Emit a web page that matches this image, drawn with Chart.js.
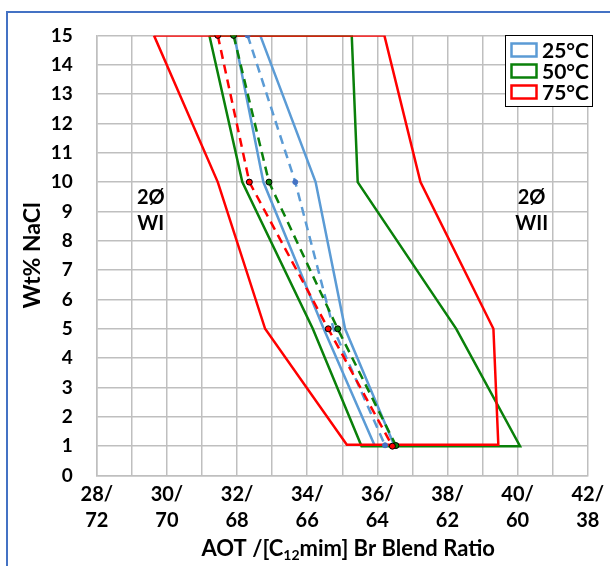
<!DOCTYPE html>
<html>
<head>
<meta charset="utf-8">
<script src="https://cdn.jsdelivr.net/npm/chart.js@4/dist/chart.umd.min.js"></script>
<style>
html, body { margin: 0; padding: 0; background: #fff; }
#wrap { width: 610px; height: 566px; position: relative; }
</style>
</head>
<body>
<div id="wrap"><canvas id="phaseChart" width="610" height="566"></canvas></div>
<script>
// phase boundaries (closed outlines), x = AOT share, y = wt% NaCl
const edge25X = [31.92, 32.75, 34.47, 35.92, 36.48, 35.08, 34.24, 32.66, 31.92];
const edge25Y = [15, 10, 5, 1.03, 1.03, 5, 10, 15, 15];
const edge50X = [31.21, 32.15, 34.16, 35.55, 40.07, 38.25, 35.44, 35.27, 31.21];
const edge50Y = [15, 10, 5, 1.0, 1.0, 5, 10, 15, 15];
const edge75X = [29.63, 31.45, 32.8, 35.13, 39.45, 39.31, 37.23, 36.2, 29.63];
const edge75Y = [15, 10, 5, 1.05, 1.05, 5, 10, 15, 15];

// optimum lines (dashed with markers)
const opt25X = [32.3, 33.66, 34.75, 36.22];
const opt25Y = [15, 10, 5, 1.03];
const opt50X = [31.9, 32.91, 34.87, 36.53];
const opt50Y = [15, 10, 5, 1.02];
const opt75X = [31.45, 32.35, 34.6, 36.43];
const opt75Y = [15, 10, 5, 1.0];

const seriesLabels = ['25°C', '50°C', '75°C'];
const xTickTop = ['28/', '30/', '32/', '34/', '36/', '38/', '40/', '42/'];
const xTickBottom = ['72', '70', '68', '66', '64', '62', '60', '38'];
const xTickValues = [28, 30, 32, 34, 36, 38, 40, 42];

const BLUE = '#5B9BD5';
const GREEN = '#0A800A';
const RED = '#FF0000';
const FONT = 'Lato, "Open Sans", sans-serif';

const toPoints = (xs, ys) => xs.map((x, i) => ({ x: x, y: ys[i] }));

const solidSet = (label, xs, ys, color, order) => ({
    label: label,
    inLegend: true,
    data: toPoints(xs, ys),
    showLine: true,
    borderColor: color,
    backgroundColor: color,
    borderWidth: 2.5,
    pointRadius: 0,
    tension: 0,
    order: order
});

const dashedSet = (label, xs, ys, color, dotFill, dotBorder, radius, order) => ({
    label: label,
    data: toPoints(xs, ys),
    showLine: true,
    borderColor: color,
    borderWidth: 2.5,
    borderDash: [9, 6],
    pointRadius: radius,
    pointBackgroundColor: dotFill,
    pointBorderColor: dotBorder,
    pointBorderWidth: 1,
    tension: 0,
    order: order
});

// frame, legend box, region labels and axis title with subscript
const decorPlugin = {
    id: 'decor',
    afterDraw(chart) {
        const ctx = chart.ctx;
        const xs = chart.scales.x;
        const ys = chart.scales.y;
        ctx.save();

        ctx.strokeStyle = '#4472C4';
        ctx.lineWidth = 2;
        ctx.strokeRect(7, 12, 640, 600);

        ctx.fillStyle = '#000';
        ctx.textAlign = 'center';
        ctx.textBaseline = 'middle';
        ctx.font = 'bold 20px ' + FONT;
        ctx.fillText('2Ø', xs.getPixelForValue(29.54), ys.getPixelForValue(9.46));
        ctx.fillText('WI', xs.getPixelForValue(29.54), ys.getPixelForValue(8.6));
        ctx.fillText('2Ø', xs.getPixelForValue(40.4), ys.getPixelForValue(9.46));
        ctx.fillText('WII', xs.getPixelForValue(40.4), ys.getPixelForValue(8.6));

        // x title: AOT /[C12mim] Br Blend Ratio
        const big = 'bold 22px ' + FONT;
        const small = 'bold 14px ' + FONT;
        const parts = [['AOT /[C', big, 0], ['12', small, 6], ['mim] Br Blend Ratio', big, 0]];
        let total = 0;
        parts.forEach(p => { ctx.font = p[1]; total += ctx.measureText(p[0]).width; });
        let px = (xs.left + xs.right) / 2 - total / 2 + 6;
        ctx.textAlign = 'left';
        parts.forEach(p => {
            ctx.font = p[1];
            ctx.fillText(p[0], px, 549 + p[2]);
            px += ctx.measureText(p[0]).width;
        });

        // legend
        const items = chart.data.datasets.filter(d => d.inLegend);
        items.sort((a, b) => seriesLabels.indexOf(a.label) - seriesLabels.indexOf(b.label));
        ctx.fillStyle = '#fff';
        ctx.fillRect(505, 35, 87, 71);
        ctx.strokeStyle = '#000';
        ctx.lineWidth = 1;
        ctx.strokeRect(505.5, 35.5, 87, 71);
        items.forEach((d, i) => {
            const y = 50 + i * 21;
            ctx.strokeStyle = d.borderColor;
            ctx.lineWidth = 2.5;
            ctx.strokeRect(511.5, y - 6.5, 25, 13);
            ctx.fillStyle = '#000';
            ctx.font = 'bold 21px ' + FONT;
            ctx.textBaseline = 'middle';
            ctx.fillText(d.label, 542, y + 1);
        });
        ctx.restore();
    }
};

document.addEventListener('DOMContentLoaded', () => {
    const ctx = document.getElementById('phaseChart').getContext('2d');
    new Chart(ctx, {
        type: 'scatter',
        data: {
            datasets: [
                dashedSet('75°C opt', opt75X, opt75Y, RED, RED, '#000', 3, 0),
                dashedSet('50°C opt', opt50X, opt50Y, GREEN, GREEN, '#000', 3, 1),
                dashedSet('25°C opt', opt25X, opt25Y, BLUE, '#4472C4', '#4472C4', [2.5, 2.5, 0, 2.5], 2),
                solidSet(seriesLabels[2], edge75X, edge75Y, RED, 3),
                solidSet(seriesLabels[1], edge50X, edge50Y, GREEN, 4),
                solidSet(seriesLabels[0], edge25X, edge25Y, BLUE, 5)
            ]
        },
        options: {
            responsive: false,
            animation: false,
            layout: { padding: { left: 0, right: 12.7, top: 30.7, bottom: 0 } },
            scales: {
                x: {
                    type: 'linear',
                    min: 28,
                    max: 42,
                    afterFit: (scale) => { scale.height = 90.5; },
                    ticks: {
                        stepSize: 1,
                        autoSkip: false,
                        maxRotation: 0,
                        padding: 6,
                        color: '#000',
                        font: { family: FONT, size: 20, weight: 'bold', lineHeight: 1.3 },
                        callback: (value) => {
                            const i = xTickValues.indexOf(value);
                            return i >= 0 ? [xTickTop[i], xTickBottom[i]] : '';
                        }
                    },
                    grid: { color: '#BFBFBF', lineWidth: 1.5, drawTicks: false },
                    border: { display: true, color: '#BFBFBF', width: 1.5 }
                },
                y: {
                    type: 'linear',
                    min: 0,
                    max: 15,
                    afterFit: (scale) => { scale.width = 96.8; },
                    ticks: {
                        stepSize: 1,
                        padding: 24,
                        color: '#000',
                        font: { family: FONT, size: 19, weight: 'bold' }
                    },
                    grid: { color: '#BFBFBF', lineWidth: 1.5, drawTicks: false },
                    border: { display: true, color: '#BFBFBF', width: 1.5 },
                    title: {
                        display: true,
                        text: 'Wt% NaCl',
                        color: '#000',
                        font: { family: FONT, size: 23, weight: 'bold' },
                        padding: { top: 19, bottom: 0 }
                    }
                }
            },
            plugins: {
                legend: { display: false },
                tooltip: { enabled: false }
            }
        },
        plugins: [decorPlugin]
    });
});
</script>
</body>
</html>
